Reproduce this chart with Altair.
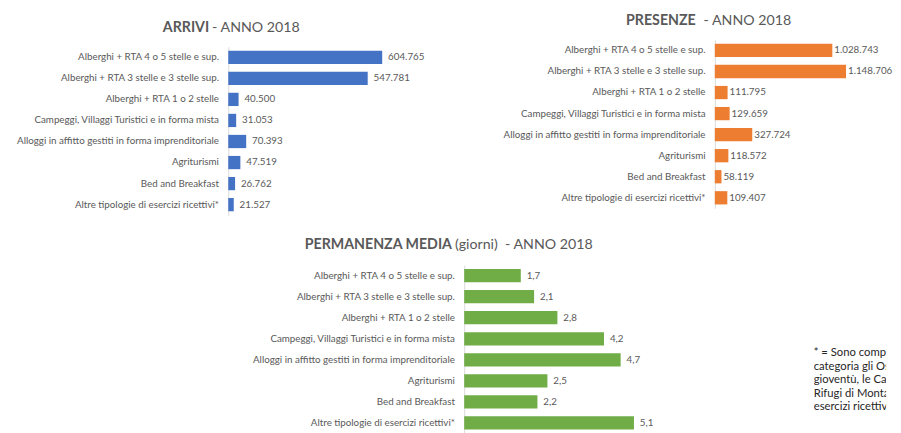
import altair as alt
import pandas as pd

FONT = "Lato"
GREY = "#595959"
AXIS_LINE = "#D9D9D9"

categories = [
    "Alberghi + RTA 4 o 5 stelle e sup.",
    "Alberghi + RTA 3 stelle e 3 stelle sup.",
    "Alberghi + RTA 1 o 2 stelle",
    "Campeggi, Villaggi Turistici e in forma mista",
    "Alloggi in affitto gestiti in forma imprenditoriale",
    "Agriturismi",
    "Bed and Breakfast",
    "Altre tipologie di esercizi ricettivi*",
]
arrivi = [604765, 547781, 40500, 31053, 70393, 47519, 26762, 21527]
presenze = [1028743, 1148706, 111795, 129659, 327724, 118572, 58119, 109407]
permanenza = [1.7, 2.1, 2.8, 4.2, 4.7, 2.5, 2.2, 5.1]
note_lines = [
    "* = Sono compresi in questa",
    "categoria gli Ostelli per la",
    "gioventù, le Case per ferie, i",
    "Rifugi di Montagna e gli altri",
    "esercizi ricettivi",
]


def fmt_int(v):
    return f"{v:,}".replace(",", ".")


def fmt_dec(v):
    return f"{v:.1f}".replace(".", ",")


def panel(values, labels, color, dmax, bold, regular, bx, rx, ty,
          width, height, xrange, yrange, dx=6):
    df = pd.DataFrame({"cat": categories, "val": values, "lab": labels})
    y = alt.Y(
        "cat:N",
        sort=categories,
        scale=alt.Scale(paddingInner=0.37, paddingOuter=0.185, range=yrange),
        axis=alt.Axis(
            title=bold, titleAngle=0, titleX=bx, titleY=ty, titleAlign="right",
            titleBaseline="alphabetic", titleFont=FONT, titleFontSize=14.5,
            titleFontWeight="bold", titleColor=GREY,
            labelFont=FONT, labelFontSize=10, labelColor=GREY, labelPadding=10,
            labelLimit=0, ticks=False, grid=False, domainColor=AXIS_LINE,
        ),
    )
    x = alt.X(
        "val:Q",
        scale=alt.Scale(domain=[0, dmax], range=xrange),
        axis=alt.Axis(
            orient="top", title=regular, titleX=rx, titleY=ty, titleAlign="left",
            titleBaseline="alphabetic", titleFont=FONT, titleFontSize=14.5,
            titleFontWeight="normal", titleColor=GREY,
            labels=False, ticks=False, domain=False, grid=False,
        ),
    )
    base = alt.Chart(df).encode(x=x, y=y)
    bars = base.mark_bar(color=color)
    text = base.mark_text(
        align="left", baseline="middle", dx=dx, font=FONT, fontSize=10, color=GREY
    ).encode(text="lab:N")
    return alt.layer(bars, text).properties(width=width, height=height)


def spacer(w, h):
    return (
        alt.Chart(pd.DataFrame({"z": [0]}))
        .mark_rule(strokeWidth=0, opacity=0)
        .encode(x=alt.value(0), x2=alt.value(0), y=alt.value(0), y2=alt.value(0))
        .properties(width=w, height=h)
    )


A = panel(arrivi, [fmt_int(v) for v in arrivi], "#4472C4", 800000,
          "ARRIVI", "- ANNO 2018", -20, -17, -9,
          width=208, height=179, xrange=[0, 208], yrange=[7, 179])
B = panel(presenze, [fmt_int(v) for v in presenze], "#ED7D31", 1500000,
          "PRESENZE", "- ANNO 2018", -20, -12, -16,
          width=91, height=172, xrange=[0, 175], yrange=[0, 172], dx=2)
C = panel(permanenza, [fmt_dec(v) for v in permanenza], "#70AD47", 6,
          "PERMANENZA MEDIA", "(giorni)\u00a0 - ANNO 2018", -13, -10, -17,
          width=204, height=172, xrange=[0, 204], yrange=[0, 172])

note_df = pd.DataFrame({"i": list(range(len(note_lines))), "t": note_lines})
note = (
    alt.Chart(note_df)
    .mark_text(align="left", baseline="middle", font=FONT, fontSize=11.5,
               color="#262626", clip=True)
    .encode(
        x=alt.value(0),
        y=alt.Y("i:O", axis=None,
                scale=alt.Scale(type="point", padding=0.5, range=[83, 152])),
        text="t:N",
    )
    .properties(width=74, height=152)
)

# 2 x 4 grid with flush bounds: columns start at 0, 241, 497, 598 px
cells = [
    A, spacer(246, 228), B, spacer(1, 1),
    spacer(231, 1), C, spacer(1, 1), note,
]

chart = (
    alt.concat(*cells, columns=4, bounds="flush",
               spacing={"row": 2, "column": 10})
    .properties(padding={"left": 8, "top": 0, "right": 0, "bottom": 0})
    .configure_view(strokeWidth=0)
)

chart.save("out.html", embed_options={"renderer": "svg", "actions": False})
